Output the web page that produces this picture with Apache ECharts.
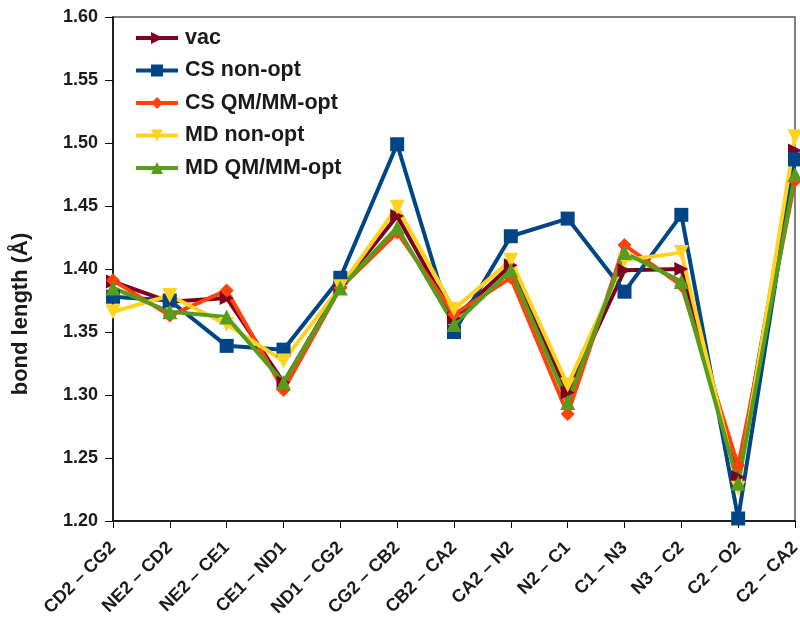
<!DOCTYPE html>
<html>
<head>
<meta charset="utf-8">
<script src="https://cdn.jsdelivr.net/npm/echarts@6/dist/echarts.min.js"></script>
<style>
  html, body { margin: 0; padding: 0; background: #fff; }
  #chart { width: 800px; height: 617px; }
</style>
</head>
<body>
<div id="chart"></div>
<script>
// Bond names along the x axis
const bonds = ['CD2 – CG2', 'NE2 – CD2', 'NE2 – CE1', 'CE1 – ND1', 'ND1 – CG2', 'CG2 – CB2',
  'CB2 – CA2', 'CA2 – N2', 'N2 – C1', 'C1 – N3', 'N3 – C2', 'C2 – O2', 'C2 – CA2'];

// Bond lengths (Å) per model
const vac       = [1.390, 1.374, 1.377, 1.310, 1.386, 1.442, 1.361, 1.403, 1.302, 1.399, 1.400, 1.235, 1.494];
const csNonOpt  = [1.378, 1.375, 1.339, 1.336, 1.393, 1.499, 1.350, 1.426, 1.440, 1.382, 1.443, 1.202, 1.487];
const csQmmmOpt = [1.391, 1.363, 1.383, 1.304, 1.385, 1.429, 1.364, 1.393, 1.285, 1.419, 1.387, 1.244, 1.470];
const mdNonOpt  = [1.366, 1.379, 1.356, 1.327, 1.386, 1.449, 1.368, 1.407, 1.308, 1.407, 1.413, 1.226, 1.505];
const mdQmmmOpt = [1.385, 1.366, 1.362, 1.310, 1.385, 1.433, 1.356, 1.399, 1.294, 1.413, 1.390, 1.230, 1.475];

// Y axis range
const yMin = 1.2, yMax = 1.6, yStep = 0.05;

const font = 'Liberation Sans, Arial, sans-serif';
const textColor = '#1a1a1a';

function line(name, data, color, symbol, rotate, size) {
  return {
    name: name,
    type: 'line',
    data: data,
    symbol: symbol,
    symbolRotate: rotate,
    symbolSize: size,
    showAllSymbol: true,
    clip: false,
    lineStyle: { color: color, width: 4 },
    itemStyle: { color: color },
    emphasis: { disabled: true },
    z: 2
  };
}

const chart = echarts.init(document.getElementById('chart'), null, { renderer: 'canvas' });
chart.setOption({
  animation: false,
  backgroundColor: '#ffffff',
  grid: {
    left: 113, right: 5, top: 17, bottom: 96,
    outerBoundsMode: 'none', containLabel: false,
    show: true, borderColor: '#555555', borderWidth: 1.5
  },
  legend: {
    orient: 'vertical',
    left: 134,
    top: 27,
    padding: 0,
    itemWidth: 42,
    itemHeight: 15,
    itemGap: 10.5,
    lineStyle: { width: 4 },
    textStyle: { fontFamily: font, fontWeight: 'bold', fontSize: 21.5, lineHeight: 21, color: textColor, padding: [0, 0, 0, 2] },
    data: ['vac', 'CS non-opt', 'CS QM/MM-opt', 'MD non-opt', 'MD QM/MM-opt']
  },
  graphic: [{
    type: 'text',
    x: 21, y: 314,
    rotation: Math.PI / 2,
    style: {
      text: 'bond length (Å)',
      fontFamily: font, fontWeight: 'bold', fontSize: 22,
      fill: textColor,
      align: 'center', verticalAlign: 'middle'
    }
  }],
  xAxis: {
    type: 'category',
    data: bonds,
    boundaryGap: false,
    axisLine: { lineStyle: { color: '#000', width: 1.5 } },
    axisTick: { show: true, length: 7, inside: false, alignWithLabel: true, lineStyle: { color: '#000' } },
    axisLabel: {
      interval: 0, rotate: 45, margin: 24,
      fontFamily: font, fontWeight: 'bold', fontSize: 18, color: textColor
    },
    splitLine: { show: false }
  },
  yAxis: {
    type: 'value',
    min: yMin, max: yMax, interval: yStep,
    axisLine: { show: true, lineStyle: { color: '#000', width: 1.5 } },
    axisTick: { show: true, length: 8, lineStyle: { color: '#000' } },
    axisLabel: {
      formatter: v => v.toFixed(2),
      margin: 15,
      fontFamily: font, fontWeight: 'bold', fontSize: 18, color: textColor
    },
    splitLine: { show: false }
  },
  series: [
    line('vac', vac, '#7e0021', 'triangle', -90, 14),
    line('CS non-opt', csNonOpt, '#004586', 'rect', 0, 14),
    line('CS QM/MM-opt', csQmmmOpt, '#ff420e', 'diamond', 0, 14),
    line('MD non-opt', mdNonOpt, '#ffd320', 'triangle', 180, 15),
    line('MD QM/MM-opt', mdQmmmOpt, '#579d1c', 'triangle', 0, 15)
  ]
});
</script>
</body>
</html>
